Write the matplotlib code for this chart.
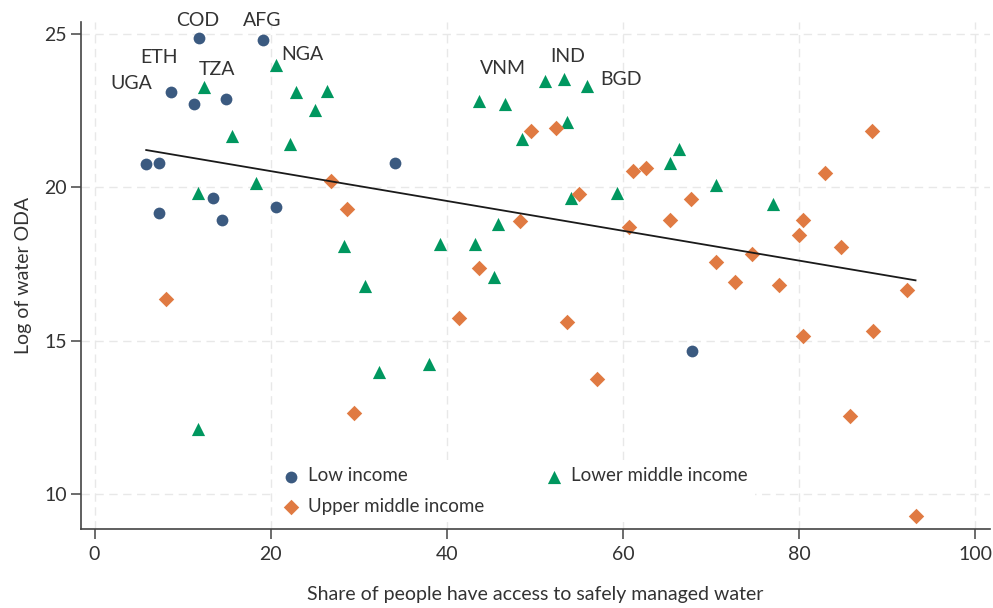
import matplotlib
matplotlib.use("Agg")
import matplotlib.pyplot as plt
import numpy as np

# share of people with safely managed water (x) vs log of water ODA (y)
low_x = [11.91, 19.15, 8.73, 11.31, 14.94, 5.85, 7.30, 34.07, 13.43, 7.30, 14.45, 20.63, 67.86]
low_y = [24.89, 24.80, 23.12, 22.72, 22.90, 20.76, 20.80, 20.79, 19.65, 19.16, 18.95, 19.36, 14.66]

lmi_x = [20.66, 12.44, 22.93, 26.39, 25.02, 15.63, 22.18, 18.32, 11.80, 28.32, 39.18, 43.16,
         30.74, 32.36, 37.98, 11.73, 43.69, 46.65, 51.19, 53.32, 55.97, 53.66, 48.58, 54.15,
         59.30, 45.77, 45.36, 66.39, 65.32, 70.55, 77.07]
lmi_y = [24.00, 23.27, 23.12, 23.13, 22.53, 21.69, 21.42, 20.16, 19.83, 18.09, 18.16, 18.16,
         16.79, 13.97, 14.24, 12.11, 22.81, 22.73, 23.48, 23.53, 23.32, 22.12, 21.57, 19.65,
         19.83, 18.82, 17.07, 21.25, 20.81, 20.08, 19.45]

umi_x = [26.80, 28.66, 8.13, 41.34, 29.41, 49.60, 52.44, 55.02, 48.35, 43.69, 61.19, 62.67,
         67.75, 60.66, 65.32, 70.55, 88.32, 82.90, 80.40, 80.02, 84.72, 74.64, 72.75, 77.78,
         92.30, 80.43, 88.43, 53.69, 57.10, 85.74, 93.24]
umi_y = [20.21, 19.31, 16.35, 15.73, 12.63, 21.85, 21.95, 19.77, 18.92, 17.38, 20.52, 20.63,
         19.62, 18.72, 18.94, 17.58, 21.85, 20.48, 18.93, 18.44, 18.07, 17.83, 16.93, 16.82,
         16.65, 15.16, 15.31, 15.62, 13.74, 12.56, 9.29]

# fitted line (ends at the min / max share)
fit_x = [5.87, 93.23]
fit_y = [21.22, 16.97]

# country labels: (code, group, index in group)
labels = [("COD", "low", 0), ("AFG", "low", 1), ("UGA", "low", 2), ("ETH", "low", 3),
          ("NGA", "lmi", 0), ("TZA", "lmi", 1), ("VNM", "lmi", 18), ("IND", "lmi", 19),
          ("BGD", "lmi", 20)]
# label offsets in pixels (text baseline centre relative to the point)
label_offsets = {"COD": (-2, 12), "AFG": (-1, 14), "UGA": (-40, 3), "ETH": (-35, 41),
                 "NGA": (26, 5), "TZA": (13, 12), "VNM": (-42, 7), "IND": (4, 17),
                 "BGD": (34, 1)}

blue = "#3b5a80"
green = "#00975f"
orange = "#e07a42"
txt = "#333333"

plt.rcParams["font.family"] = ["Lato", "DejaVu Sans"]

fig = plt.figure(figsize=(9.93, 6.08), dpi=100)
ax = fig.add_axes([0.0816, 0.130, 0.9155, 0.834])

h_low = ax.scatter(low_x, low_y, s=72, marker="o", color=blue, linewidths=0, zorder=3, label="Low income")
h_lmi = ax.scatter(lmi_x, lmi_y, s=90, marker="^", color=green, linewidths=0, zorder=3, label="Lower middle income")
h_umi = ax.scatter(umi_x, umi_y, s=62, marker="D", color=orange, linewidths=0, zorder=3, label="Upper middle income")

ax.plot(fit_x, fit_y, color="#1a1a1a", lw=1.3, zorder=4)

groups = {"low": (low_x, low_y), "lmi": (lmi_x, lmi_y)}
for code, grp, i in labels:
    gx, gy = groups[grp]
    ax.annotate(code, (gx[i], gy[i]), xytext=label_offsets[code], textcoords="offset pixels",
                ha="center", va="baseline", fontsize=14, color=txt)

ax.set_xlim(-1.53, 101.7)
ax.set_ylim(8.86, 25.4)
ax.set_xticks([0, 20, 40, 60, 80, 100])
ax.set_yticks([10, 15, 20, 25])
ax.grid(True, color="#e8e8e8", linestyle=(0, (6, 4)), lw=1.0, zorder=0)
ax.set_axisbelow(True)

for s in ["top", "right"]:
    ax.spines[s].set_visible(False)
for s in ["left", "bottom"]:
    ax.spines[s].set_color("#444444")
    ax.spines[s].set_linewidth(1.2)
ax.tick_params(colors="#444444", labelcolor=txt, labelsize=14, length=7, width=1.1)
ax.tick_params(axis="x", pad=5)
ax.tick_params(axis="y", pad=3)

ax.set_xlabel("Share of people have access to safely managed water", fontsize=14, color=txt, labelpad=17)
ax.set_ylabel("Log of water ODA", fontsize=14, color=txt, labelpad=9)

leg = ax.legend(handles=[h_low, h_umi, h_lmi], ncol=2, loc="lower center", bbox_to_anchor=(0.478, -0.005),
                fontsize=13.5, frameon=True, facecolor="white", edgecolor="none", framealpha=1,
                handlelength=0.8, handletextpad=0.5, columnspacing=3.35, labelspacing=0.7,
                borderpad=0.4, scatterpoints=1)
for t in leg.get_texts():
    t.set_color(txt)
leg.set_zorder(2)

fig.savefig("out.png", dpi=100)
